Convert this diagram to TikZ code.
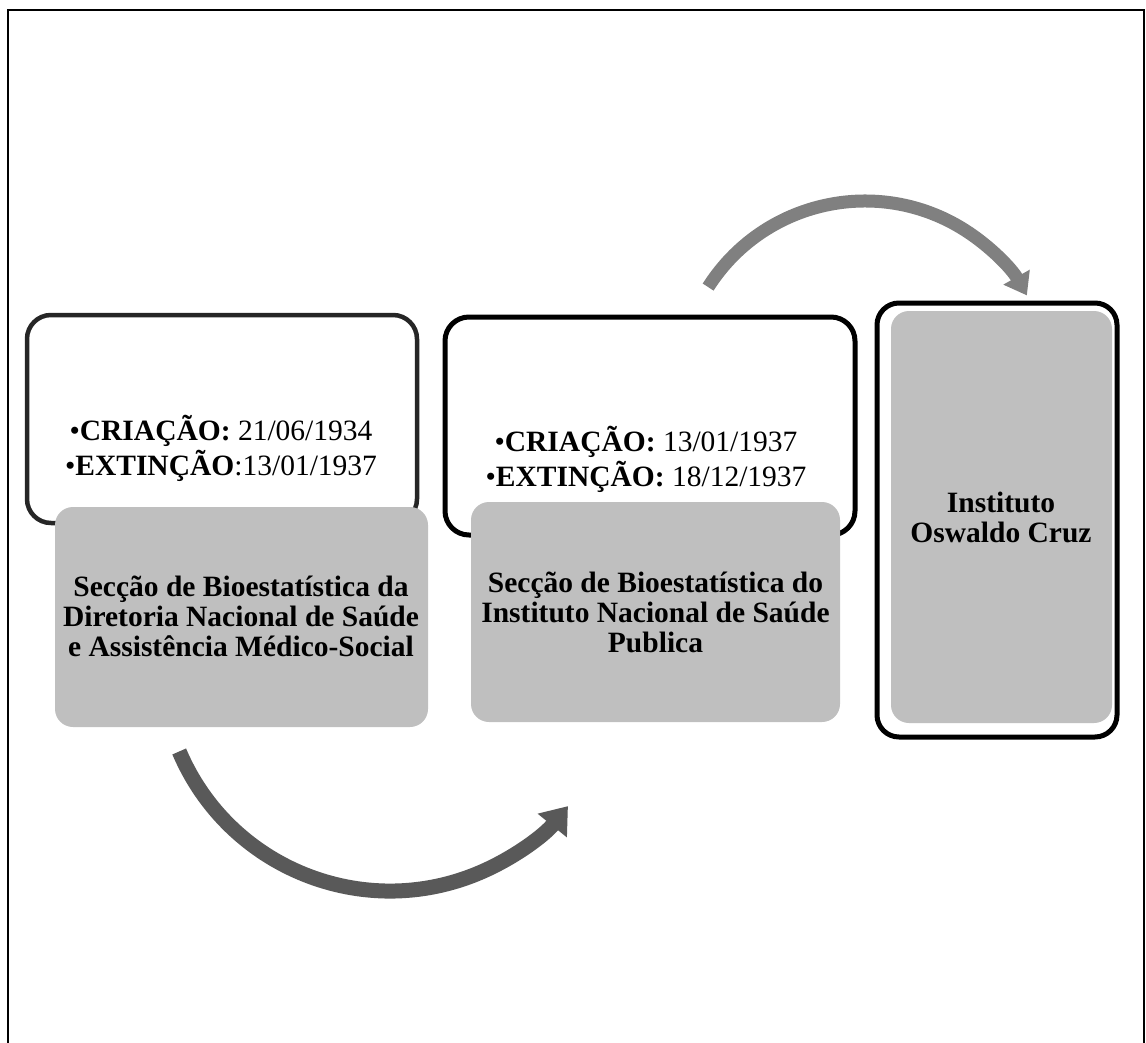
\documentclass[tikz,border=0pt]{standalone}
\usepackage{fontspec}
\setmainfont{Liberation Serif}
\usetikzlibrary{arrows.meta,calc}
\definecolor{boxgray}{HTML}{BFBFBF}
\definecolor{arrowlight}{HTML}{808080}
\definecolor{arrowdark}{HTML}{595959}
\begin{document}
\begin{tikzpicture}[x=1pt,y=-1pt,
  outline/.style={draw=black, fill=white, line width=4.5pt, rounded corners=24pt, inner sep=0pt},
  graybox/.style={fill=boxgray, draw=none, rounded corners=18pt, inner sep=0pt},
  datetext/.style={font=\fontsize{29.5}{35}\selectfont, align=center, inner sep=0pt},
  nametext/.style={font=\bfseries\fontsize{29.5}{30}\selectfont, align=center, inner sep=0pt},
  bigarrow/.style={draw=arrowdark, line width=15pt, -{Triangle[length=25pt,width=36pt]}},
  smallarrow/.style={draw=arrowlight, line width=13pt, -{Triangle[length=21pt,width=29pt]}},
]
\useasboundingbox (0,0) rectangle (1146,1043);
% outer frame
\draw[line width=2.5pt] (8,1050) -- (8,10) -- (1144,10) -- (1144,1050);

% first block
\node[outline, draw=black!85, minimum width=390pt, minimum height=208pt] (b1) at (222,419) {};
\node[graybox, minimum width=373pt, minimum height=220pt] (g1) at (241.5,617) {};
\node[datetext] (d1) at (221,448.5) {•\textbf{CRIAÇÃO:} 21/06/1934\\•\textbf{EXTINÇÃO}:13/01/1937};
\node[nametext] (n1) at (241,616.5) {Secção de Bioestatística da\\Diretoria Nacional de Saúde\\e Assistência Médico-Social};

% second block
\node[outline, line width=5pt, minimum width=410pt, minimum height=218pt] (b2) at (650,426) {};
\node[graybox, minimum width=369pt, minimum height=220pt] (g2) at (655.5,612) {};
\node[datetext] (d2) at (646,459.5) {•\textbf{CRIAÇÃO:} 13/01/1937\\•\textbf{EXTINÇÃO:} 18/12/1937};
\node[nametext] (n2) at (655.5,612) {Secção de Bioestatística do\\Instituto Nacional de Saúde\\Publica};

% third block
\node[outline, line width=5pt, rounded corners=22pt, minimum width=240pt, minimum height=434pt] (b3) at (997,520) {};
\node[graybox, minimum width=221pt, minimum height=412pt] (g3) at (1001.5,517) {};
\node[nametext] (n3) at (1001,517) {Instituto\\Oswaldo Cruz};

% curved arrows
\coordinate (c1) at (390,662);
\coordinate (a1s) at ($(c1)+(157:229)$);
\draw[bigarrow] (a1s) arc[start angle=157, end angle=39, radius=229];

\coordinate (c2) at (865,387);
\coordinate (a2s) at ($(c2)+(212.5:186)$);
\draw[smallarrow] (a2s) arc[start angle=212.5, end angle=330.5, radius=186];
\end{tikzpicture}
\end{document}
